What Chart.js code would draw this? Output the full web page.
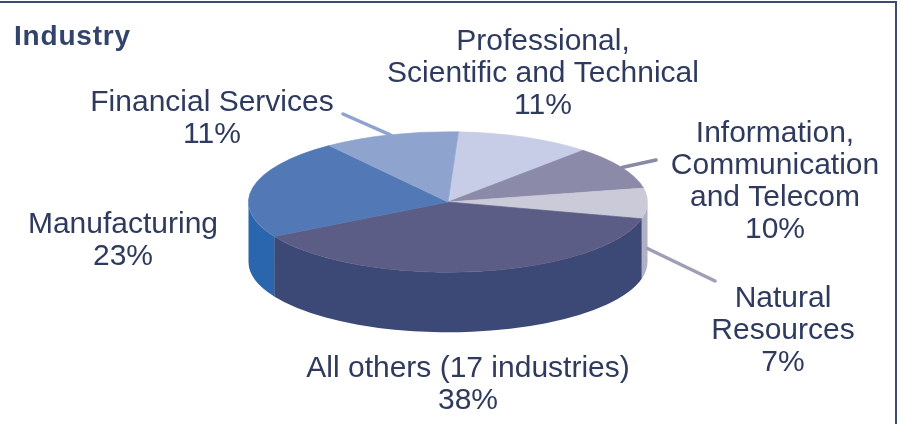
<!DOCTYPE html>
<html>
<head>
<meta charset="utf-8">
<title>Industry</title>
<script src="https://cdn.jsdelivr.net/npm/chart.js@4.4.1/dist/chart.umd.min.js"></script>
<style>
  html, body { margin: 0; padding: 0; background: #fff; }
  #wrap { position: relative; width: 901px; height: 424px; }
</style>
</head>
<body>
<div id="wrap"><canvas id="industryChart"></canvas></div>
<script>
// slices, clockwise from the top
const categories = [
    'Professional, Scientific and Technical',
    'Information, Communication and Telecom',
    'Natural Resources',
    'All others (17 industries)',
    'Manufacturing',
    'Financial Services'
];
const shares = [11, 10, 7, 38, 23, 11];
const labelLines = [
    ['Professional,', 'Scientific and Technical'],
    ['Information,', 'Communication', 'and Telecom'],
    ['Natural', 'Resources'],
    ['All others (17 industries)'],
    ['Manufacturing'],
    ['Financial Services']
];

const topColors  = ['#c8cde7', '#8b8aa8', '#cbcad9', '#5c5d86', '#5279b6', '#8ea4cf'];
const sideColors = ['#aeb3cf', '#74738f', '#b0b0c5', '#3c4977', '#2966ad', '#6f86b5'];

// the flat pie gets squashed and given a wall
const pie = { cy: 202, tilt: 0.352, depth: 60 };
const lineGap = 32;
const labelSpots = [
    { x: 543, y: 50 },
    { x: 775, y: 142 },
    { x: 783, y: 307 },
    { x: 468, y: 377 },
    { x: 123, y: 233 },
    { x: 212, y: 111 }
];
// leader lines: slice, how far down the wall they start, end near the label
const leaders = [
    { index: 5, wall: 0, to: [343, 114], color: '#8ea3cd' },
    { index: 1, wall: 0, to: [656, 160], color: '#8a89a6' },
    { index: 2, wall: 0.75, to: [715, 281], color: '#9e9eb6' }
];

const pie3d = {
    id: 'pie3d',
    beforeDatasetsDraw(chart) {
        const ctx = chart.ctx;
        const arcs = chart.getDatasetMeta(0).data;
        if (!arcs.length) return;
        const cx = arcs[0].x, r = arcs[0].outerRadius, ry = r * pie.tilt;
        ctx.save();
        // front walls first, only the half facing us
        arcs.forEach((arc, i) => {
            for (let k = -1; k <= 1; k++) {
                const a1 = Math.max(arc.startAngle, 2 * Math.PI * k);
                const a2 = Math.min(arc.endAngle, 2 * Math.PI * k + Math.PI);
                if (a2 <= a1) continue;
                ctx.beginPath();
                ctx.ellipse(cx, pie.cy, r, ry, 0, a1, a2);
                ctx.ellipse(cx, pie.cy + pie.depth, r, ry, 0, a2, a1, true);
                ctx.closePath();
                ctx.fillStyle = sideColors[i];
                ctx.fill();
            }
        });
        // top face: let chart.js draw its arcs through this squash
        ctx.translate(cx, pie.cy);
        ctx.scale(1, pie.tilt);
        ctx.translate(-cx, -arcs[0].y);
    },
    afterDatasetsDraw(chart) {
        chart.ctx.restore();
    },
    afterDraw(chart) {
        const ctx = chart.ctx;
        const arcs = chart.getDatasetMeta(0).data;
        const cx = arcs[0].x, r = arcs[0].outerRadius, ry = r * pie.tilt;
        ctx.save();

        // frame, top and right only
        ctx.fillStyle = '#3d4b6e';
        ctx.fillRect(0, 1, 897, 2);
        ctx.fillRect(895, 1, 2, 423);

        ctx.lineCap = 'round';
        ctx.lineWidth = 3.5;
        leaders.forEach(l => {
            const arc = arcs[l.index];
            const mid = (arc.startAngle + arc.endAngle) / 2;
            const sx = cx + r * Math.cos(mid);
            const sy = pie.cy + ry * Math.sin(mid) + l.wall * pie.depth;
            ctx.strokeStyle = l.color;
            ctx.beginPath();
            ctx.moveTo(sx, sy);
            ctx.lineTo(l.to[0], l.to[1]);
            ctx.stroke();
        });

        ctx.fillStyle = '#33446c';
        ctx.textAlign = 'left';
        ctx.font = 'bold 28px "Liberation Sans", Arial, sans-serif';
        if ('letterSpacing' in ctx) ctx.letterSpacing = '0.8px';
        ctx.fillText('Industry', 14, 45);
        if ('letterSpacing' in ctx) ctx.letterSpacing = '0px';

        ctx.fillStyle = '#2e3a5e';
        ctx.textAlign = 'center';
        ctx.font = '30px "Liberation Sans", Arial, sans-serif';
        labelSpots.forEach((spot, i) => {
            const lines = labelLines[i].concat(shares[i] + '%');
            lines.forEach((t, j) => ctx.fillText(t, spot.x, spot.y + j * lineGap));
        });
        ctx.restore();
    }
};

document.addEventListener('DOMContentLoaded', function() {
    const ctx = document.getElementById('industryChart').getContext('2d');

    new Chart(ctx, {
        type: 'pie',
        data: {
            labels: categories,
            datasets: [{
                data: shares,
                backgroundColor: topColors,
                borderColor: topColors,
                borderWidth: 1
            }]
        },
        options: {
            responsive: true,
            maintainAspectRatio: false,
            animation: false,
            rotation: 3,
            layout: {
                padding: { left: 248, right: 253, top: 12, bottom: 12 }
            },
            plugins: {
                legend: { display: false },
                tooltip: { enabled: false }
            }
        },
        plugins: [pie3d]
    });
});
</script>
</body>
</html>
